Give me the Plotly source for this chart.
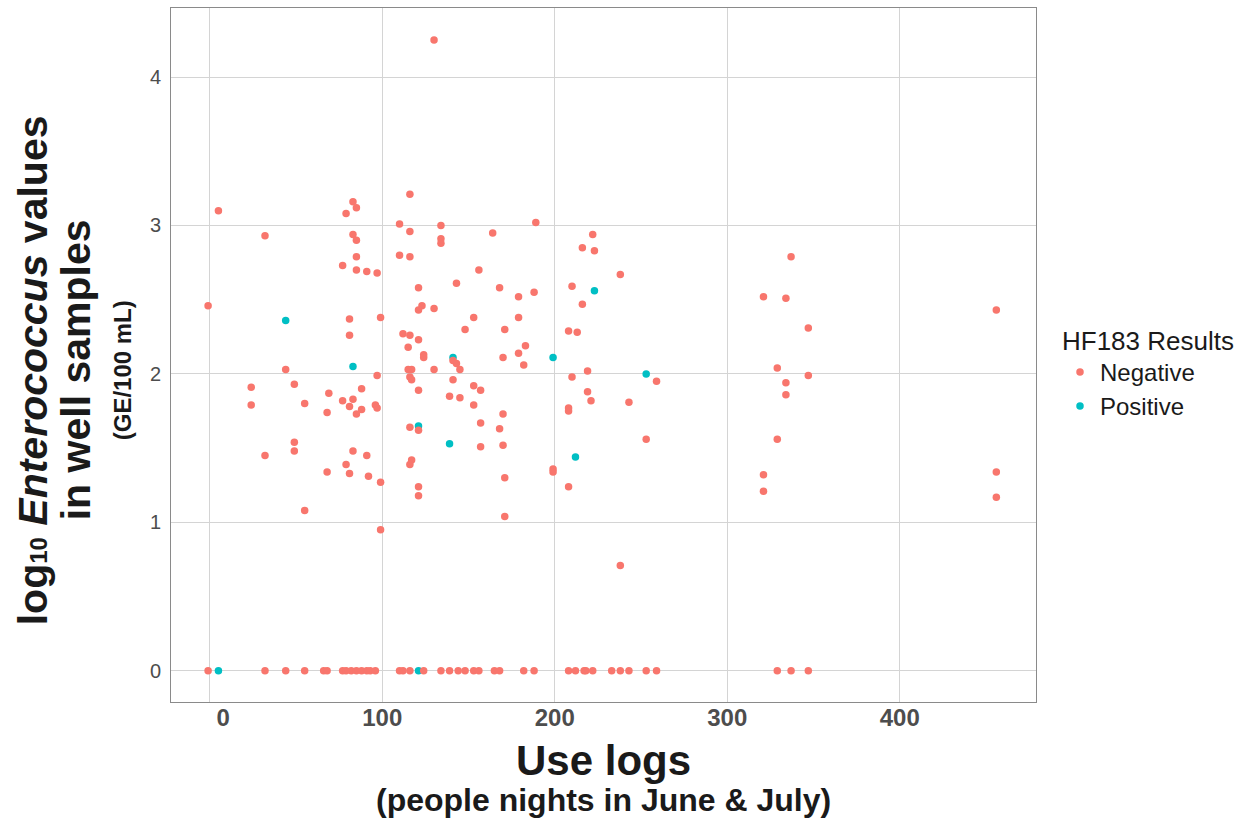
import plotly.graph_objects as go

# HF183 negative wells: use logs (people nights) vs log10 Enterococcus (GE/100 mL)
neg_use_logs = [
    130, 116, 5, 83, 85, 79, 32, 83, 85, 110, 116, 134, 134, 134, 85, 110, 116,
    189, 164, 222, 216, 223,
    77, 85, 91, 97, 121, 143, -1, 123, 121, 130, 81, 99, 148, 112, 116, 81, 121,
    115, 124, 124, 141, 143, 145, 44, 115, 117, 130, 97, 116, 117, 141, 24, 49,
    88, 121, 69, 77, 83, 24, 55, 81, 88, 96, 97, 68, 85, 139, 145, 116, 121, 49,
    49, 83, 32, 91, 117, 116, 79, 68, 81, 92, 99, 121, 121, 55, 99,
    156, 168, 179, 188, 210, 238, 216, 153, 171, 179, 208, 213, 183, 179, 170,
    182, 219, 259, 210, 153, 157, 219, 221, 243, 153, 170, 208, 208, 157, 168,
    253, 157, 170, 199, 199, 171, 208, 171, 238,
    337, 321, 334, 347, 456, 329, 347, 334, 334, 329, 321, 321, 456, 456,
]
neg_log_entero = [
    4.25, 3.21, 3.10, 3.16, 3.12, 3.08, 2.93, 2.94, 2.90, 3.01, 2.96, 3.00, 2.91, 2.88, 2.79, 2.80, 2.79,
    3.02, 2.95, 2.94, 2.85, 2.83,
    2.73, 2.70, 2.69, 2.68, 2.58, 2.61, 2.46, 2.46, 2.43, 2.44, 2.37, 2.38, 2.30, 2.27, 2.26, 2.26, 2.23,
    2.18, 2.13, 2.11, 2.09, 2.07, 2.03, 2.03, 2.03, 2.03, 2.03, 1.99, 1.98, 1.96, 1.96, 1.91, 1.93,
    1.90, 1.89, 1.87, 1.82, 1.83, 1.79, 1.80, 1.78, 1.76, 1.79, 1.77, 1.74, 1.73, 1.85, 1.84, 1.64, 1.62, 1.54,
    1.48, 1.48, 1.45, 1.45, 1.42, 1.39, 1.39, 1.34, 1.33, 1.31, 1.27, 1.24, 1.18, 1.08, 0.95,
    2.70, 2.58, 2.52, 2.55, 2.59, 2.67, 2.47, 2.38, 2.30, 2.38, 2.29, 2.28, 2.19, 2.14, 2.11,
    2.06, 2.02, 1.95, 1.98, 1.92, 1.89, 1.88, 1.82, 1.81, 1.79, 1.73, 1.77, 1.75, 1.67, 1.63,
    1.56, 1.51, 1.52, 1.36, 1.34, 1.30, 1.24, 1.04, 0.71,
    2.79, 2.52, 2.51, 2.31, 2.43, 2.04, 1.99, 1.94, 1.86, 1.56, 1.32, 1.21, 1.34, 1.17,
]
# negative wells with no detectable Enterococcus
neg_zero_use_logs = [
    -1, 32, 44, 55, 66, 68, 77, 79, 82, 85, 88, 91, 93, 96, 110, 112, 116, 124,
    134, 139, 144, 148, 153, 156, 165, 168, 182, 188, 208, 212, 217, 218, 222,
    233, 238, 243, 253, 259, 329, 337, 347,
]
neg_zero_log_entero = [0.0] * len(neg_zero_use_logs)

# HF183 positive wells
pos_use_logs = [44, 141, 83, 121, 139, 223, 199, 253, 212, 5, 121]
pos_log_entero = [2.36, 2.11, 2.05, 1.65, 1.53, 2.56, 2.11, 2.00, 1.44, 0.0, 0.0]

x_ticks = [0, 100, 200, 300, 400]
# labels are padded to a common width of three digits
x_tick_labels = ["\u00a0\u00a0\u00a0\u00a00", "100", "200", "300", "400"]
y_ticks = [0, 1, 2, 3, 4]

NEG_COLOR = "#F8766D"
POS_COLOR = "#00BFC4"
FONT = "Liberation Sans, Arial, Helvetica, sans-serif"

fig = go.Figure()
fig.add_trace(go.Scatter(
    x=pos_use_logs, y=pos_log_entero, mode="markers", name="Positive",
    marker=dict(color=POS_COLOR, size=7.5, line=dict(width=0)),
    legendrank=2,
))
fig.add_trace(go.Scatter(
    x=neg_use_logs + neg_zero_use_logs, y=neg_log_entero + neg_zero_log_entero,
    mode="markers", name="Negative",
    marker=dict(color=NEG_COLOR, size=7.5, line=dict(width=0)),
    legendrank=1,
))

axis_common = dict(
    showgrid=True, gridcolor="#d4d4d4", gridwidth=1,
    zeroline=False, showline=True, linecolor="#8a8a8a", linewidth=1, mirror=True,
)
fig.update_xaxes(
    range=[-22.5, 479], tickvals=x_ticks, ticktext=x_tick_labels,
    ticks="", ticklabelstandoff=-6,
    tickfont=dict(family=FONT, size=24, color="#4d4d4d", weight="bold"),
    **axis_common,
)
fig.update_yaxes(
    range=[-0.21, 4.465], tickvals=y_ticks,
    ticks="outside", ticklen=5, tickcolor="rgba(0,0,0,0)",
    tickfont=dict(family=FONT, size=20, color="#4d4d4d"),
    **axis_common,
)

PLOT_L, PLOT_R, PLOT_T, PLOT_B = 171, 1036, 8, 702
W, H = 1247, 820

annotations = [
    # x-axis title and subtitle
    dict(text="<b>Use logs</b>", x=0.5, y=0, xref="paper", yref="paper",
         xanchor="center", yanchor="middle", yshift=-(760 - PLOT_B), showarrow=False,
         font=dict(family=FONT, size=42, color="#1a1a1a")),
    dict(text="<b>(people nights in June &amp; July)</b>", x=0.5, y=0, xref="paper", yref="paper",
         xanchor="center", yanchor="middle", yshift=-(800 - PLOT_B), showarrow=False,
         font=dict(family=FONT, size=32, color="#1a1a1a")),
    # y-axis title, three lines
    dict(text="<b>log<span style='font-size:24px'>10</span> <i>Enterococcus</i> values</b>",
         x=0, y=0.478, xref="paper", yref="paper", xanchor="center", yanchor="middle",
         xshift=33 - PLOT_L, textangle=-90, showarrow=False,
         font=dict(family=FONT, size=41, color="#1a1a1a")),
    dict(text="<b>in well samples</b>", x=0, y=0.478,
         xref="paper", yref="paper", xanchor="center", yanchor="middle",
         xshift=76 - PLOT_L, textangle=-90, showarrow=False,
         font=dict(family=FONT, size=41, color="#1a1a1a")),
    dict(text="<b>(GE/100 mL)</b>", x=0, y=0.478,
         xref="paper", yref="paper", xanchor="center", yanchor="middle",
         xshift=122 - PLOT_L, textangle=-90, showarrow=False,
         font=dict(family=FONT, size=24, color="#1a1a1a")),
]

fig.update_layout(
    width=W, height=H,
    margin=dict(l=PLOT_L, r=W - PLOT_R, t=PLOT_T, b=H - PLOT_B),
    paper_bgcolor="white", plot_bgcolor="white",
    font=dict(family=FONT),
    annotations=annotations,
    showlegend=True,
    legend=dict(
        title=dict(text="HF183 Results", font=dict(family=FONT, size=26, color="#1a1a1a")),
        font=dict(family=FONT, size=24, color="#1a1a1a"),
        x=(1060 - PLOT_L) / (PLOT_R - PLOT_L), xanchor="left",
        y=(PLOT_B - 316) / (PLOT_B - PLOT_T), yanchor="top",
        bgcolor="rgba(0,0,0,0)", tracegroupgap=0,
    ),
)

fig.write_html("out.html")
